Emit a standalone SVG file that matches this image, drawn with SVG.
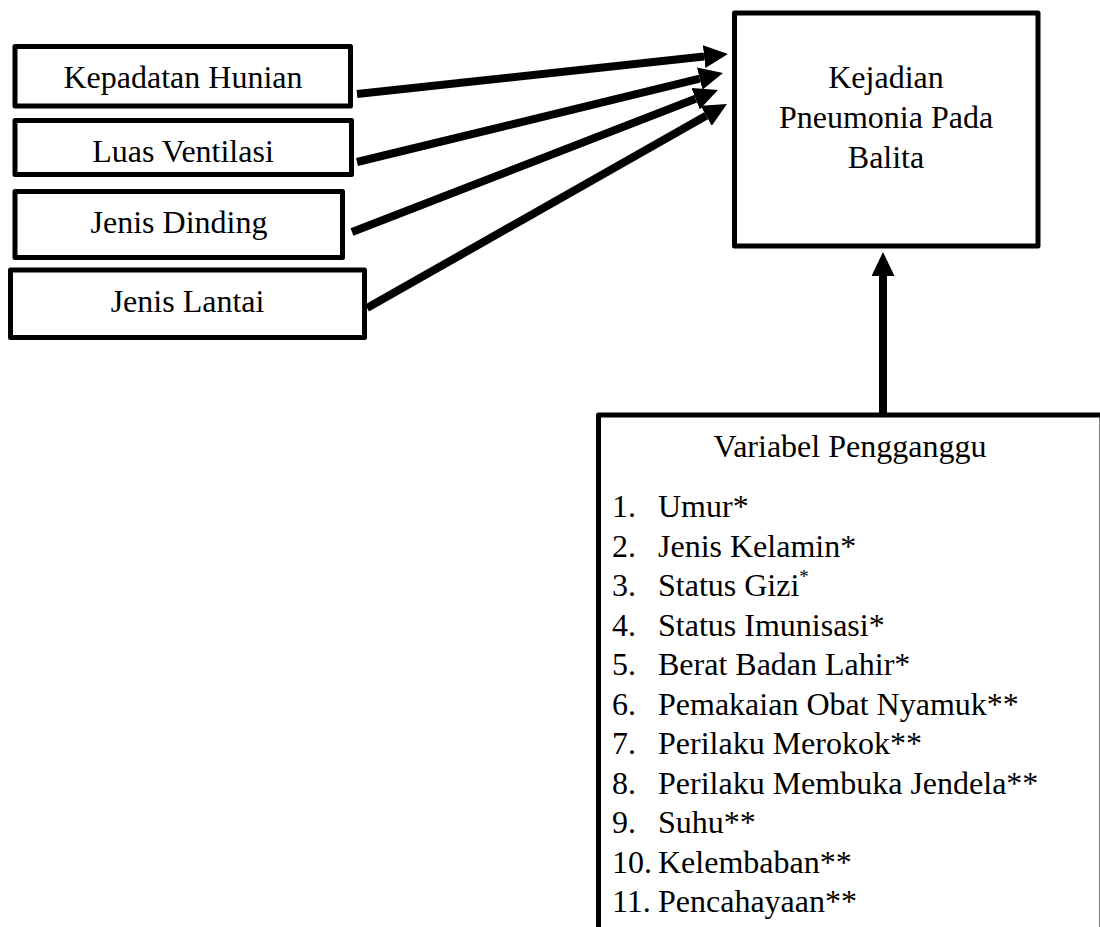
<svg xmlns="http://www.w3.org/2000/svg" width="1100" height="927" viewBox="0 0 1100 927">
<style>
.box{fill:#fff;stroke:#000;stroke-width:5;stroke-linejoin:round}
.t{font-family:"Liberation Serif","Times New Roman",serif;font-size:32px;fill:#000}
.c{text-anchor:middle}
.conn{stroke:#000;stroke-width:8;fill:none}
</style>
<defs>
<marker id="ah" markerUnits="userSpaceOnUse" markerWidth="24" markerHeight="23" refX="0" refY="11.5" orient="auto">
<path d="M0,0 L24,11.5 L0,23 z" fill="#000"/>
</marker>
</defs>
<rect width="1100" height="927" fill="#fff"/>
<g id="kepadatan">
<rect class="box" x="15" y="46.5" width="335.5" height="59.5"/>
<text class="t c" x="183" y="88">Kepadatan Hunian</text>
</g>
<g id="luas">
<rect class="box" x="15" y="120.5" width="336.5" height="54"/>
<text class="t c" x="183" y="162">Luas Ventilasi</text>
</g>
<g id="dinding">
<rect class="box" x="15" y="191.5" width="327.5" height="66"/>
<text class="t c" x="179" y="233">Jenis Dinding</text>
</g>
<g id="lantai">
<rect class="box" x="10.5" y="270" width="354" height="67.5"/>
<text class="t c" x="187.5" y="312">Jenis Lantai</text>
</g>
<g id="kejadian">
<rect class="box" x="734.5" y="13" width="303.5" height="233"/>
<text class="t c" x="886" y="88">Kejadian</text>
<text class="t c" x="886" y="128">Pneumonia Pada</text>
<text class="t c" x="886" y="168">Balita</text>
</g>
<g id="pengganggu">
<rect class="box" x="598.5" y="415" width="503.5" height="540"/>
<text class="t c" x="850" y="457">Variabel Pengganggu</text>
<g class="t">
<text x="612" y="517">1.</text><text x="658" y="517">Umur*</text>
<text x="612" y="556.5">2.</text><text x="658" y="556.5">Jenis Kelamin*</text>
<text x="612" y="596">3.</text><text x="658" y="596">Status Gizi<tspan font-size="19" dy="-13">*</tspan></text>
<text x="612" y="635.5">4.</text><text x="658" y="635.5">Status Imunisasi*</text>
<text x="612" y="675">5.</text><text x="658" y="675">Berat Badan Lahir*</text>
<text x="612" y="714.5">6.</text><text x="658" y="714.5">Pemakaian Obat Nyamuk**</text>
<text x="612" y="754">7.</text><text x="658" y="754">Perilaku Merokok**</text>
<text x="612" y="793.5">8.</text><text x="658" y="793.5">Perilaku Membuka Jendela**</text>
<text x="612" y="833">9.</text><text x="658" y="833">Suhu**</text>
<text x="612" y="872.5">10.</text><text x="658" y="872.5">Kelembaban**</text>
<text x="612" y="912">11.</text><text x="658" y="912">Pencahayaan**</text>
</g>
</g>
<g id="connectors">
<line class="conn" x1="357" y1="94" x2="704.1" y2="56.6" marker-end="url(#ah)"/>
<line class="conn" x1="357" y1="162" x2="699.7" y2="78.7" marker-end="url(#ah)"/>
<line class="conn" x1="352" y1="232" x2="695.6" y2="98.7" marker-end="url(#ah)"/>
<line class="conn" x1="367" y1="308" x2="706.1" y2="115.8" marker-end="url(#ah)"/>
<line class="conn" x1="883" y1="415" x2="883" y2="276" marker-end="url(#ah)"/>
</g>
</svg>
